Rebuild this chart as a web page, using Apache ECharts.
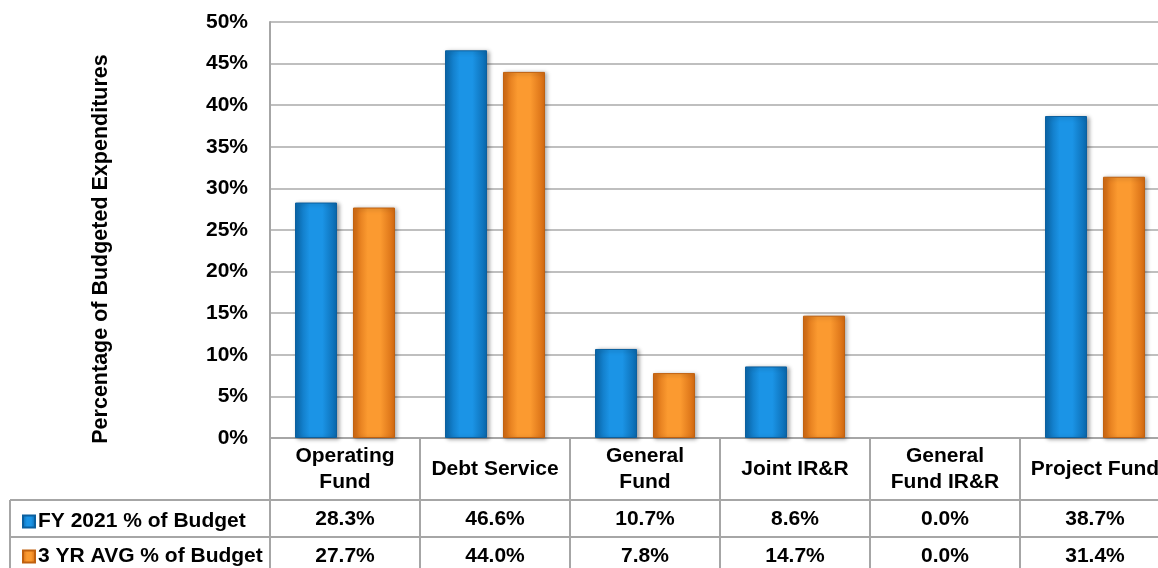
<!DOCTYPE html>
<html>
<head>
<meta charset="utf-8">
<script src="https://cdn.jsdelivr.net/npm/echarts@6/dist/echarts.min.js"></script>
<style>
  html, body { margin: 0; padding: 0; background: #fff; overflow: hidden; }
  /* the original chart runs a little past the right edge of the picture */
  #chart { width: 1172px; height: 568px; }
</style>
</head>
<body>
<div id="chart"></div>
<script>
// categories and values
const categories = ['Operating\nFund', 'Debt Service', 'General\nFund', 'Joint IR&R', 'General\nFund IR&R', 'Project Fund'];
const fy2021 = [28.3, 46.6, 10.7, 8.6, 0.0, 38.7];
const avg3yr = [27.7, 44.0, 7.8, 14.7, 0.0, 31.4];
const seriesNames = ['FY 2021 % of Budget', '3 YR AVG % of Budget'];
const yTicks = { min: 0, max: 50, interval: 5 };

const font = 'Liberation Sans, Arial, sans-serif';
const grey = '#a6a6a6';

function barGradient(edge, mid) {
  return new echarts.graphic.LinearGradient(0, 0, 1, 0, [
    { offset: 0, color: edge },
    { offset: 0.35, color: mid },
    { offset: 0.65, color: mid },
    { offset: 1, color: edge }
  ]);
}

// zero values draw no bar at all (only shown in the table)
const barData = vals => vals.map(v => (v === 0 ? null : v));

const chart = echarts.init(document.getElementById('chart'));

// table rows under the axis are extra category axes showing the values
const valueAxis = (vals, offset) => ({
  type: 'category',
  data: vals.map(v => v.toFixed(1) + '%'),
  position: 'bottom',
  offset: offset,
  axisLine: { show: false },
  axisTick: { show: false },
  axisLabel: {
    margin: 0, verticalAlign: 'middle', interval: 0,
    fontFamily: font, fontWeight: 'bold', fontSize: 21, color: '#000'
  }
});

// one legend per table row so each sits in its own row
const rowLegend = (name, top) => ({
  left: 17, top: top,
  itemWidth: 12, itemHeight: 12, itemGap: 0,
  icon: 'rect',
  textStyle: { fontFamily: font, fontWeight: 'bold', fontSize: 21, color: '#000', padding: [0, 0, 0, -2] },
  data: [name]
});

const option = {
  animation: false,
  backgroundColor: '#fff',
  grid: { left: 270, right: 2, top: 22, bottom: 130, containLabel: false },
  legend: [rowLegend(seriesNames[0], 506), rowLegend(seriesNames[1], 541)],
  xAxis: [
    {
      type: 'category',
      data: categories,
      axisLine: { lineStyle: { color: grey, width: 2 } },
      axisTick: { show: true, interval: 0, length: 130, lineStyle: { color: grey, width: 2 } },
      axisLabel: {
        interval: 0, margin: 31, verticalAlign: 'middle', lineHeight: 26,
        fontFamily: font, fontWeight: 'bold', fontSize: 21, color: '#000'
      }
    },
    valueAxis(fy2021, 81),
    valueAxis(avg3yr, 118)
  ],
  yAxis: {
    type: 'value',
    min: yTicks.min, max: yTicks.max, interval: yTicks.interval,
    name: 'Percentage of Budgeted Expenditures',
    nameLocation: 'middle', nameRotate: 90, nameGap: 158,
    nameTextStyle: { fontFamily: font, fontWeight: 'bold', fontSize: 21.5, color: '#000', padding: [0, 38, 0, 0] },
    axisLine: { show: true, lineStyle: { color: grey, width: 2 } },
    axisTick: { show: false },
    axisLabel: {
      formatter: '{value}%', margin: 22,
      fontFamily: font, fontWeight: 'bold', fontSize: 21, color: '#000'
    },
    splitLine: { lineStyle: { color: '#bfbfbf', width: 2 } }
  },
  series: [
    {
      name: seriesNames[0], type: 'bar', data: barData(fy2021),
      barWidth: 42, barGap: '38%',
      itemStyle: {
        color: barGradient('#0a68ad', '#1b94e6'),
        borderColor: '#0b5f9e', borderWidth: 1,
        shadowColor: 'rgba(0,0,0,0.35)', shadowBlur: 4, shadowOffsetX: 2, shadowOffsetY: 1
      }
    },
    {
      name: seriesNames[1], type: 'bar', data: barData(avg3yr),
      barWidth: 42,
      itemStyle: {
        color: barGradient('#d46a12', '#fb9a30'),
        borderColor: '#c0600e', borderWidth: 1,
        shadowColor: 'rgba(0,0,0,0.35)', shadowBlur: 4, shadowOffsetX: 2, shadowOffsetY: 1
      }
    }
  ],
  graphic: [
    { type: 'line', shape: { x1: 10, y1: 500, x2: 1172, y2: 500 }, style: { stroke: grey, lineWidth: 2 } },
    { type: 'line', shape: { x1: 10, y1: 537, x2: 1172, y2: 537 }, style: { stroke: grey, lineWidth: 2 } },
    { type: 'line', shape: { x1: 10, y1: 500, x2: 10, y2: 568 }, style: { stroke: grey, lineWidth: 2 } }
  ]
};

chart.setOption(option);
</script>
</body>
</html>
